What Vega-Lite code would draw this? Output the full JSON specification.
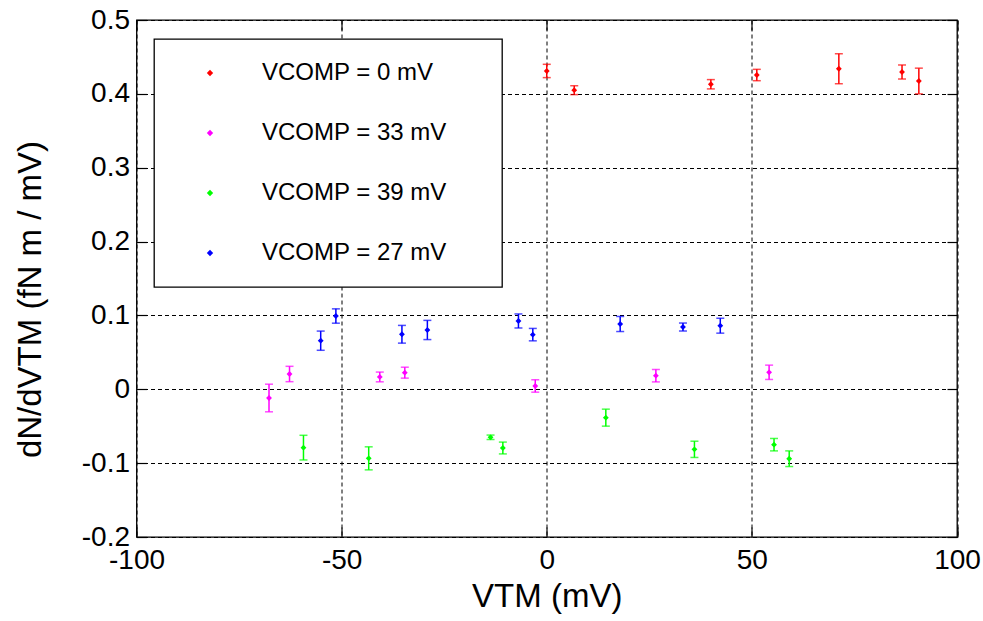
{
  "$schema": "https://vega.github.io/schema/vega-lite/v6.json",
  "width": 820.5,
  "height": 517,
  "autosize": {"type": "none"},
  "padding": {"left": 136.5, "top": 20, "right": 26, "bottom": 84},
  "background": "white",
  "config": {
    "font": "Liberation Sans",
    "view": {"stroke": "black", "strokeWidth": 1.3},
    "legend": {"strokeWidth": 1.3},
    "axis": {
      "domain": false,
      "grid": true,
      "gridColor": "black",
      "gridDash": [4, 3],
      "gridWidth": 1,
      "gridOpacity": 1,
      "tickColor": "black",
      "tickSize": -10,
      "tickWidth": 1.2,
      "labelColor": "black",
      "labelFont": "Liberation Sans",
      "labelFontSize": 28,
      "labelFlush": false,
      "labelOverlap": false,
      "titleColor": "black",
      "titleFont": "Liberation Sans",
      "titleFontSize": 33,
      "titleFontWeight": "normal"
    }
  },
  "data": {
    "values": [
      {"series": "VCOMP = 0 mV", "vtm": 0.0, "dn": 0.431, "err": 0.009},
      {"series": "VCOMP = 0 mV", "vtm": 6.7, "dn": 0.405, "err": 0.006},
      {"series": "VCOMP = 0 mV", "vtm": 40.0, "dn": 0.413, "err": 0.0063},
      {"series": "VCOMP = 0 mV", "vtm": 51.2, "dn": 0.4255, "err": 0.0077},
      {"series": "VCOMP = 0 mV", "vtm": 71.2, "dn": 0.434, "err": 0.0203},
      {"series": "VCOMP = 0 mV", "vtm": 86.6, "dn": 0.4296, "err": 0.0095},
      {"series": "VCOMP = 0 mV", "vtm": 90.7, "dn": 0.4174, "err": 0.0174},
      {"series": "VCOMP = 33 mV", "vtm": -67.7, "dn": -0.0118, "err": 0.0187},
      {"series": "VCOMP = 33 mV", "vtm": -62.7, "dn": 0.0207, "err": 0.0104},
      {"series": "VCOMP = 33 mV", "vtm": -40.7, "dn": 0.0167, "err": 0.0066},
      {"series": "VCOMP = 33 mV", "vtm": -34.6, "dn": 0.0225, "err": 0.0074},
      {"series": "VCOMP = 33 mV", "vtm": -2.8, "dn": 0.0045, "err": 0.0084},
      {"series": "VCOMP = 33 mV", "vtm": 26.6, "dn": 0.0184, "err": 0.0084},
      {"series": "VCOMP = 33 mV", "vtm": 54.2, "dn": 0.023, "err": 0.0097},
      {"series": "VCOMP = 39 mV", "vtm": -59.3, "dn": -0.079, "err": 0.0167},
      {"series": "VCOMP = 39 mV", "vtm": -43.4, "dn": -0.0935, "err": 0.0156},
      {"series": "VCOMP = 39 mV", "vtm": -13.7, "dn": -0.065, "err": 0.003},
      {"series": "VCOMP = 39 mV", "vtm": -10.7, "dn": -0.0795, "err": 0.008},
      {"series": "VCOMP = 39 mV", "vtm": 14.4, "dn": -0.0384, "err": 0.0115},
      {"series": "VCOMP = 39 mV", "vtm": 36.0, "dn": -0.0813, "err": 0.011},
      {"series": "VCOMP = 39 mV", "vtm": 55.4, "dn": -0.075, "err": 0.0084},
      {"series": "VCOMP = 39 mV", "vtm": 59.1, "dn": -0.094, "err": 0.0106},
      {"series": "VCOMP = 27 mV", "vtm": -55.1, "dn": 0.0658, "err": 0.013},
      {"series": "VCOMP = 27 mV", "vtm": -51.4, "dn": 0.0992, "err": 0.0097},
      {"series": "VCOMP = 27 mV", "vtm": -35.3, "dn": 0.0745, "err": 0.012},
      {"series": "VCOMP = 27 mV", "vtm": -29.1, "dn": 0.0803, "err": 0.013},
      {"series": "VCOMP = 27 mV", "vtm": -6.9, "dn": 0.0925, "err": 0.0095},
      {"series": "VCOMP = 27 mV", "vtm": -3.4, "dn": 0.074, "err": 0.0084},
      {"series": "VCOMP = 27 mV", "vtm": 17.9, "dn": 0.0884, "err": 0.0102},
      {"series": "VCOMP = 27 mV", "vtm": 33.2, "dn": 0.0843, "err": 0.0054},
      {"series": "VCOMP = 27 mV", "vtm": 42.3, "dn": 0.0861, "err": 0.0101}
    ]
  },
  "layer": [
    {
      "mark": {"type": "errorbar", "ticks": {"size": 8, "strokeWidth": 1.5}, "thickness": 1.5},
      "encoding": {
        "x": {
          "field": "vtm", "type": "quantitative",
          "scale": {"domain": [-100, 100], "nice": false, "zero": false},
          "axis": {"values": [-100, -50, 0, 50, 100], "title": "VTM (mV)", "labelPadding": 19, "titlePadding": 6,
                   "labelExpr": "replace(format(datum.value, 'd'), '\u2212', '-')"}
        },
        "y": {
          "field": "dn", "type": "quantitative",
          "scale": {"domain": [-0.2, 0.5], "nice": false, "zero": false},
          "axis": {"values": [-0.2, -0.1, 0, 0.1, 0.2, 0.3, 0.4, 0.5], "title": "dN/dVTM (fN m / mV)", "labelPadding": 17, "titlePadding": 34, "titleY": 279,
                   "labelExpr": "replace(format(datum.value, '.1~f'), '\u2212', '-')"}
        },
        "yError": {"field": "err"},
        "color": {
          "field": "series", "type": "nominal",
          "scale": {"domain": ["VCOMP = 0 mV", "VCOMP = 33 mV", "VCOMP = 39 mV", "VCOMP = 27 mV"],
                    "range": ["#ff0000", "#ff00ff", "#00ff00", "#0000ff"]},
          "legend": null
        }
      }
    },
    {
      "mark": {"type": "point", "shape": "diamond", "filled": true, "size": 34, "opacity": 1},
      "encoding": {
        "x": {"field": "vtm", "type": "quantitative", "axis": null},
        "y": {"field": "dn", "type": "quantitative", "axis": null},
        "color": {
          "field": "series", "type": "nominal",
          "legend": {
            "orient": "none", "legendX": 17.5, "legendY": 19,
            "title": "\u00a0", "titleOrient": "right", "titlePadding": 33, "titleFontSize": 24,
            "padding": 22, "fillColor": "white", "strokeColor": "black",
            "symbolType": "diamond", "symbolSize": 40, "symbolOffset": 22, "labelOffset": 40,
            "labelFont": "Liberation Sans", "labelFontSize": 24, "labelColor": "black",
            "rowPadding": 36, "labelLimit": 500
          }
        }
      }
    },
    {
      "mark": {"type": "point", "opacity": 0},
      "encoding": {
        "x": {"field": "vtm", "type": "quantitative",
              "axis": {"orient": "top", "values": [-100, -50, 0, 50, 100], "labels": false, "title": null, "grid": false}},
        "y": {"field": "dn", "type": "quantitative",
              "axis": {"orient": "right", "values": [-0.2, -0.1, 0, 0.1, 0.2, 0.3, 0.4, 0.5], "labels": false, "title": null, "grid": false}}
      }
    }
  ],
  "resolve": {"axis": {"x": "independent", "y": "independent"}, "legend": {"color": "independent"}}
}
